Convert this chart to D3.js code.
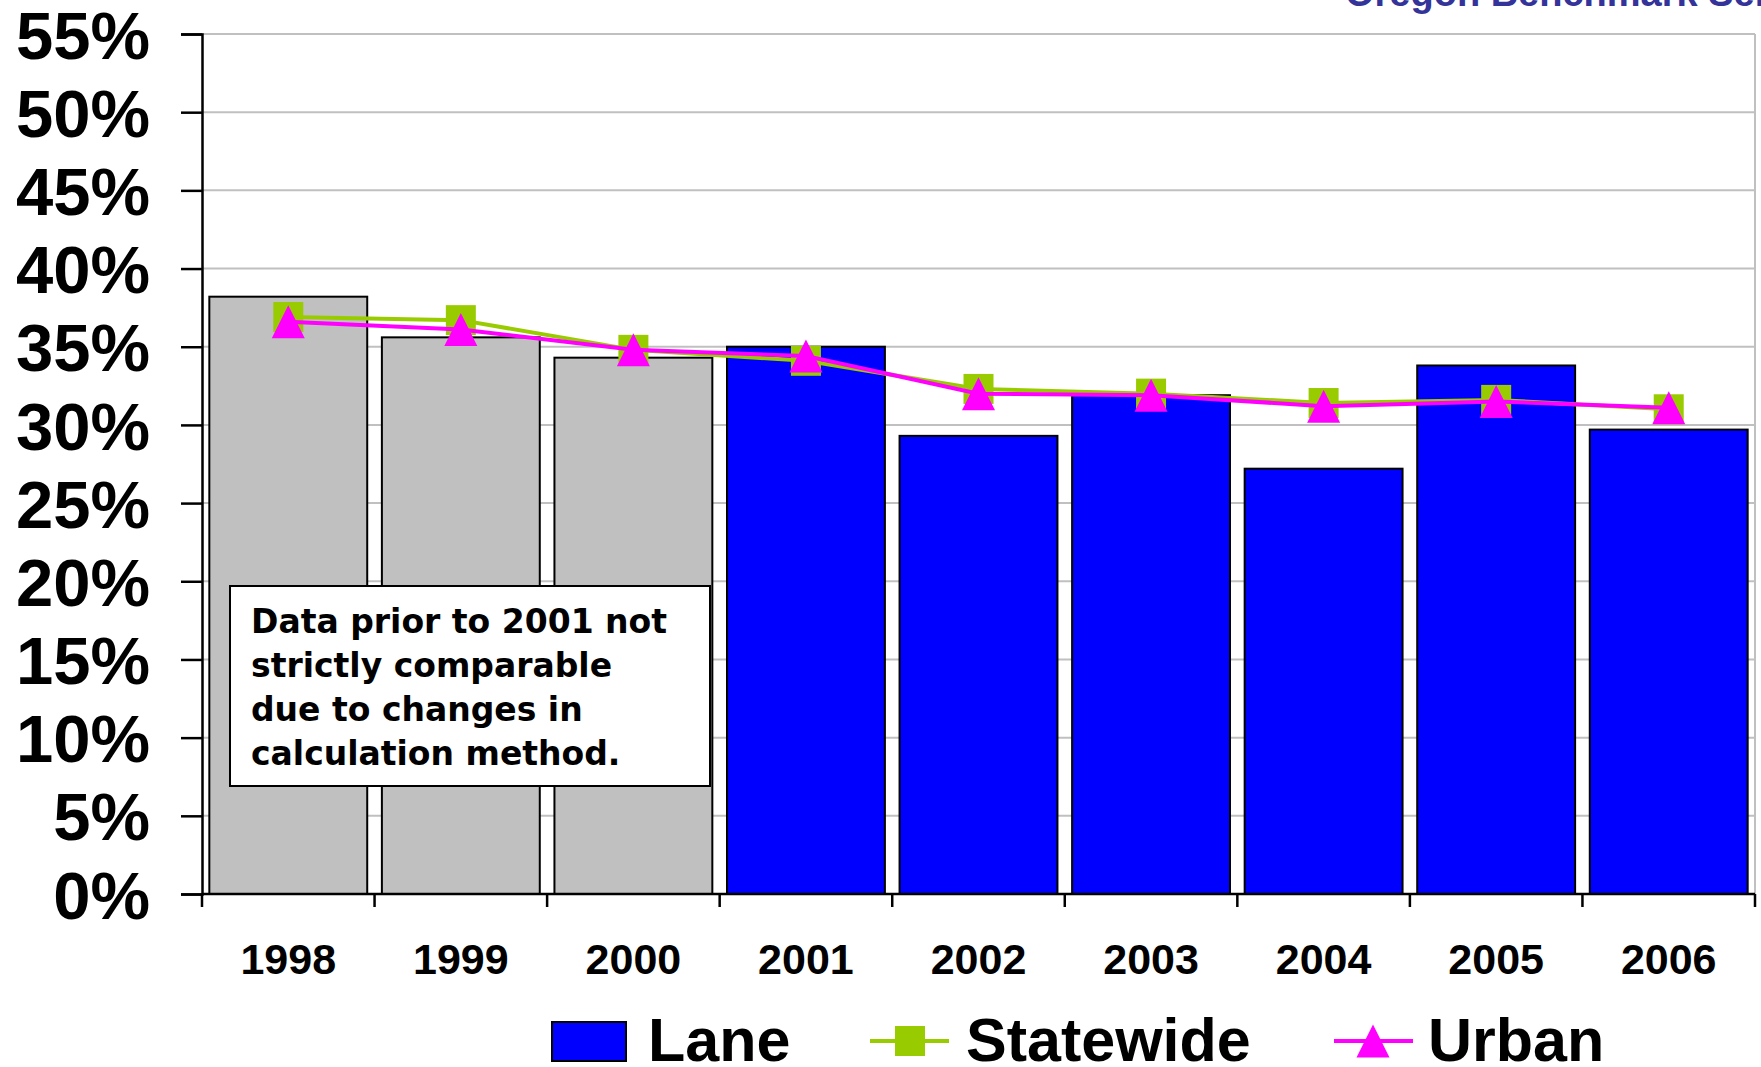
<!DOCTYPE html>
<html>
<head>
<meta charset="utf-8">
<script src="https://cdn.jsdelivr.net/npm/d3@7"></script>
<style>
  body { margin: 0; background: #fff; }
  text { font-family: "Liberation Sans", Arial, sans-serif; font-weight: bold; }
</style>
</head>
<body>
<div id="chart"></div>
<script>
// values
const years = ["1998", "1999", "2000", "2001", "2002", "2003", "2004", "2005", "2006"];
const lane = [0.382, 0.356, 0.343, 0.350, 0.293, 0.319, 0.272, 0.338, 0.297];
const statewide = [0.369, 0.367, 0.348, 0.341, 0.323, 0.320, 0.314, 0.316, 0.310];
const urban = [0.366, 0.361, 0.348, 0.344, 0.320, 0.319, 0.312, 0.315, 0.311];
const comparableFrom = "2001";
const yTicks = [0, 0.05, 0.10, 0.15, 0.20, 0.25, 0.30, 0.35, 0.40, 0.45, 0.50, 0.55];
const noteLines = ["Data prior to 2001 not", "strictly comparable", "due to changes in", "calculation method."];

const width = 1761, height = 1067;
const margin = { top: 34, right: 6, bottom: 173, left: 202 };

const svg = d3.select("#chart").append("svg")
    .attr("width", width)
    .attr("height", height);

const x = d3.scaleBand()
    .domain(years)
    .range([margin.left, width - margin.right])
    .paddingInner(0.085)
    .paddingOuter(0.0425);

const y = d3.scaleLinear()
    .domain([0, 0.55])
    .range([height - margin.bottom, margin.top]);

// title, mostly cut off at the top
svg.append("text")
    .attr("x", 1345)
    .attr("y", 6)
    .style("font-size", "38px")
    .style("fill", "#333399")
    .text("Oregon Benchmark Series");

// grid
svg.append("g")
    .selectAll("line")
    .data(yTicks.slice(1))
    .enter().append("line")
    .attr("x1", margin.left)
    .attr("x2", width - margin.right)
    .attr("y1", d => y(d))
    .attr("y2", d => y(d))
    .style("stroke", "#c0c0c0")
    .style("stroke-width", 2);

svg.append("line")
    .attr("x1", width - margin.right)
    .attr("x2", width - margin.right)
    .attr("y1", y(0.55))
    .attr("y2", y(0))
    .style("stroke", "#c0c0c0")
    .style("stroke-width", 2);

// bars
svg.append("g")
    .selectAll("rect")
    .data(years)
    .enter().append("rect")
    .attr("x", d => x(d))
    .attr("y", (d, i) => y(lane[i]))
    .attr("width", x.bandwidth())
    .attr("height", (d, i) => y(0) - y(lane[i]))
    .style("fill", d => d < comparableFrom ? "#c0c0c0" : "#0000ff")
    .style("stroke", "#000")
    .style("stroke-width", 2);

// y axis
const yAxis = svg.append("g")
    .attr("transform", `translate(${margin.left},0)`)
    .call(d3.axisLeft(y)
        .tickValues(yTicks)
        .tickFormat(d3.format(".0%"))
        .tickSize(21)
        .tickPadding(31));
yAxis.select(".domain").style("stroke", "#000").style("stroke-width", 2.5);
yAxis.selectAll(".tick line").style("stroke", "#000").style("stroke-width", 2.5);
yAxis.selectAll(".tick text")
    .style("font-size", "67px")
    .style("font-family", "'Liberation Sans', Arial, sans-serif")
    .style("font-weight", "bold")
    .attr("dy", "0.36em")
    .style("fill", "#000");

// x axis
const step = x.step();
svg.append("line")
    .attr("x1", margin.left)
    .attr("x2", width - margin.right)
    .attr("y1", y(0))
    .attr("y2", y(0))
    .style("stroke", "#000")
    .style("stroke-width", 2.5);

svg.append("g")
    .selectAll("line")
    .data(years.concat(["end"]))
    .enter().append("line")
    .attr("x1", (d, i) => margin.left + i * step)
    .attr("x2", (d, i) => margin.left + i * step)
    .attr("y1", y(0))
    .attr("y2", y(0) + 13)
    .style("stroke", "#000")
    .style("stroke-width", 2.5);

svg.append("g")
    .selectAll("text")
    .data(years)
    .enter().append("text")
    .attr("x", d => x(d) + x.bandwidth() / 2)
    .attr("y", 974)
    .attr("text-anchor", "middle")
    .style("font-size", "43px")
    .text(d => d);

// note box
const note = svg.append("g");
note.append("rect")
    .attr("x", 230)
    .attr("y", 586)
    .attr("width", 480)
    .attr("height", 200)
    .style("fill", "#fff")
    .style("stroke", "#000")
    .style("stroke-width", 2);
note.selectAll("text")
    .data(noteLines)
    .enter().append("text")
    .attr("x", 251)
    .attr("y", (d, i) => 633 + i * 44)
    .style("font-family", "'DejaVu Sans', Verdana, sans-serif")
    .style("font-size", "33px")
    .text(d => d);

// lines and markers
const cx = d => x(d) + x.bandwidth() / 2;
const line = vals => d3.line()
    .x(d => cx(d))
    .y((d, i) => y(vals[i]))(years);

const triangle = (px, py, w, h) =>
    `M${px},${py - h / 2}L${px + w / 2},${py + h / 2}L${px - w / 2},${py + h / 2}Z`;

svg.append("path")
    .attr("d", line(statewide))
    .style("fill", "none")
    .style("stroke", "#99cc00")
    .style("stroke-width", 4);

svg.append("g")
    .selectAll("rect")
    .data(years)
    .enter().append("rect")
    .attr("x", d => cx(d) - 15)
    .attr("y", (d, i) => y(statewide[i]) - 15)
    .attr("width", 30)
    .attr("height", 30)
    .style("fill", "#99cc00");

svg.append("path")
    .attr("d", line(urban))
    .style("fill", "none")
    .style("stroke", "#ff00ff")
    .style("stroke-width", 4);

svg.append("g")
    .selectAll("path")
    .data(years)
    .enter().append("path")
    .attr("d", (d, i) => triangle(cx(d), y(urban[i]), 33, 33))
    .style("fill", "#ff00ff");

// legend
const legend = svg.append("g");
legend.append("rect")
    .attr("x", 552)
    .attr("y", 1022)
    .attr("width", 74)
    .attr("height", 39)
    .style("fill", "#0000ff")
    .style("stroke", "#000")
    .style("stroke-width", 2);
legend.append("text")
    .attr("x", 648).attr("y", 1061)
    .style("font-size", "61px")
    .text("Lane");

legend.append("line")
    .attr("x1", 870).attr("x2", 949)
    .attr("y1", 1041).attr("y2", 1041)
    .style("stroke", "#99cc00")
    .style("stroke-width", 4);
legend.append("rect")
    .attr("x", 910 - 15).attr("y", 1041 - 15)
    .attr("width", 30).attr("height", 30)
    .style("fill", "#99cc00");
legend.append("text")
    .attr("x", 966).attr("y", 1061)
    .style("font-size", "61px")
    .text("Statewide");

legend.append("line")
    .attr("x1", 1334).attr("x2", 1413)
    .attr("y1", 1041).attr("y2", 1041)
    .style("stroke", "#ff00ff")
    .style("stroke-width", 4);
legend.append("path")
    .attr("d", triangle(1373, 1041, 33, 33))
    .style("fill", "#ff00ff");
legend.append("text")
    .attr("x", 1428).attr("y", 1061)
    .style("font-size", "61px")
    .text("Urban");
</script>
</body>
</html>
